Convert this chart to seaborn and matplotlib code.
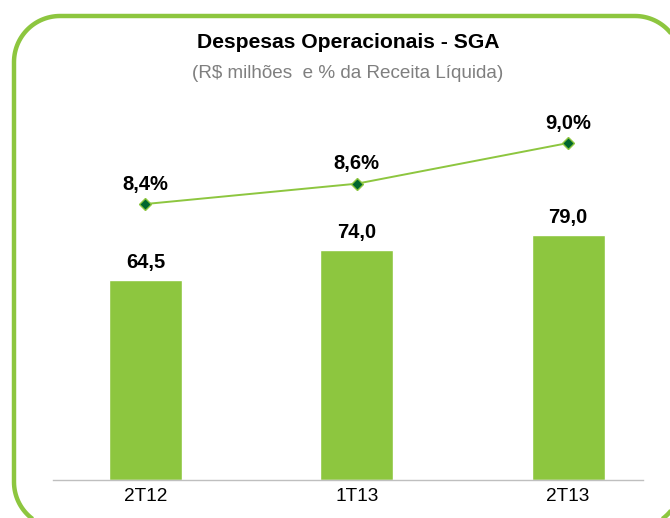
import numpy as np
import pandas as pd
import matplotlib
matplotlib.use("Agg")
import matplotlib.pyplot as plt
from matplotlib.path import Path
from matplotlib.patches import PathPatch
from matplotlib.transforms import Affine2D
import seaborn as sns

categories = ["2T12", "1T13", "2T13"]
sga_values = [64.5, 74.0, 79.0]
pct_values = [8.4, 8.6, 9.0]
bar_labels = ["64,5", "74,0", "79,0"]
pct_labels = ["8,4%", "8,6%", "9,0%"]

sns.set_theme(style="white")
plt.rcParams["font.family"] = ["Liberation Sans", "DejaVu Sans"]

BAR = "#8DC63F"
DARK = "#00662E"

W, H = 670, 518
fig = plt.figure(figsize=(W / 100, H / 100), dpi=100)

# rounded green border in pixel coordinates (partly clipped by figure edge)
def rounded_rect(x0, y0, x1, y1, r, n=30):
    pts = []
    corners = [((x1 - r, y1 - r), 0, 90), ((x0 + r, y1 - r), 90, 180),
               ((x0 + r, y0 + r), 180, 270), ((x1 - r, y0 + r), 270, 360)]
    for (cx, cy), a0, a1 in corners:
        t = np.radians(np.linspace(a0, a1, n))
        pts.extend(zip(cx + r * np.cos(t), cy + r * np.sin(t)))
    pts.append(pts[0])
    return Path(np.array(pts))

border_path = rounded_rect(14, H - 528, 681, H - 16, 46)
fig.add_artist(PathPatch(border_path, transform=Affine2D().scale(1 / 100) + fig.dpi_scale_trans,
                         facecolor="none", edgecolor=BAR, linewidth=3.2, zorder=0))

left, right = 53 / W, 643 / W
bottom, top = (H - 480) / H, (H - 100) / H
ax = fig.add_axes([left, bottom, right - left, top - bottom])

df = pd.DataFrame({"cat": categories, "val": sga_values})
sns.barplot(data=df, x="cat", y="val", color=BAR, width=0.345, saturation=1,
            ax=ax, zorder=2)
ax.set_ylim(0, 122.5)
ax.set_xlim(-0.437, 2.354)
for i, (v, lab) in enumerate(zip(sga_values, bar_labels)):
    ax.annotate(lab, (i, v), xytext=(0, 6), textcoords="offset points",
                ha="center", va="bottom", fontsize=14.5, fontweight="bold", color="black")

ax2 = ax.twinx()
sns.lineplot(x=np.arange(len(categories)), y=pct_values, ax=ax2, color=BAR,
             linewidth=1.4, marker="D", markersize=6.5, markerfacecolor=DARK,
             markeredgecolor=BAR, markeredgewidth=1.0, zorder=3)
ax2.set_ylim(5.686, 9.423)
for i, (v, lab) in enumerate(zip(pct_values, pct_labels)):
    ax2.annotate(lab, (i, v), xytext=(0, 7.5), textcoords="offset points",
                 ha="center", va="bottom", fontsize=14.5, fontweight="bold", color="black")

for a in (ax, ax2):
    for s in ["top", "left", "right"]:
        a.spines[s].set_visible(False)
    a.set_yticks([])
    a.set_ylabel("")
ax2.spines["bottom"].set_visible(False)
ax.spines["bottom"].set_color("#BFBFBF")
ax.spines["bottom"].set_linewidth(1.0)
ax.set_xlabel("")
ax.tick_params(axis="x", length=0, pad=6, labelsize=13.7, labelcolor="black")

cx = 348 / W
fig.text(cx, (H - 43) / H, "Despesas Operacionais - SGA", ha="center", va="center",
         fontsize=15.2, fontweight="bold", color="black")
fig.text(cx, (H - 74) / H, "(R$ milhões  e % da Receita Líquida)", ha="center",
         va="center", fontsize=13.6, color="#7F7F7F")

fig.savefig("out.png", dpi=100)
